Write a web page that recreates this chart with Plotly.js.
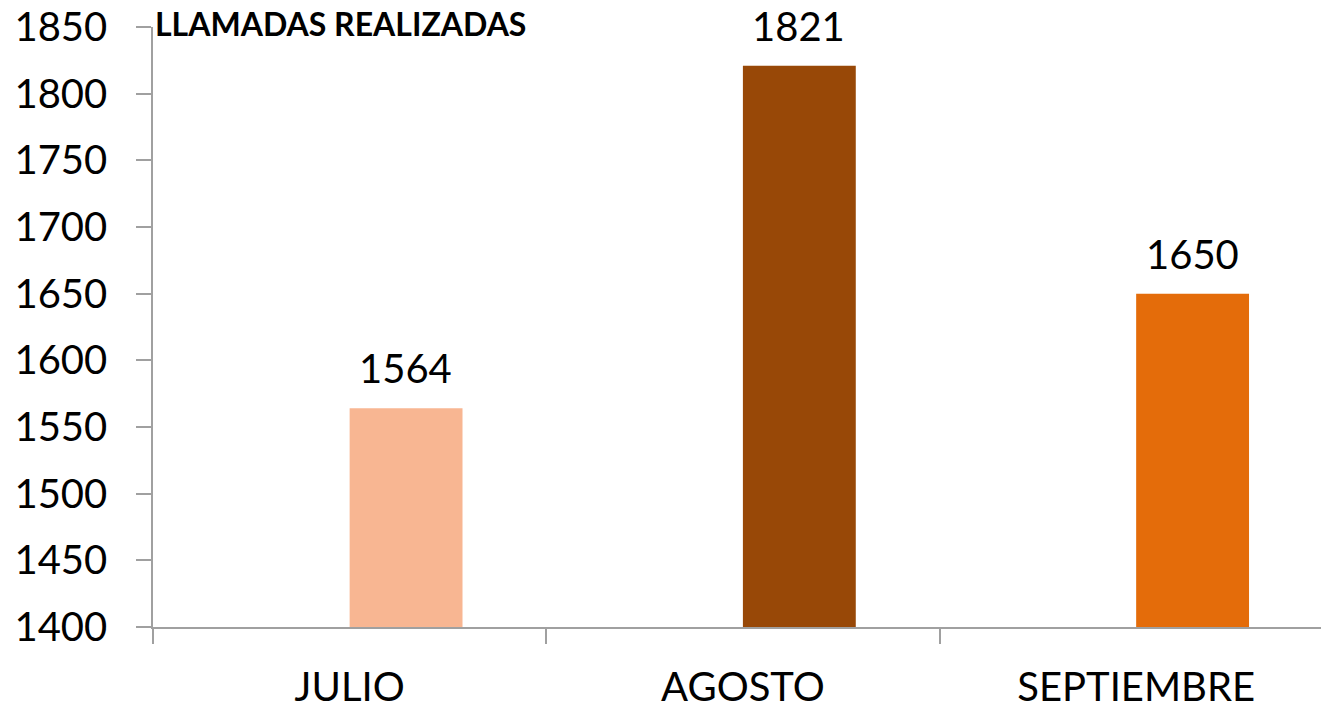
<!DOCTYPE html>
<html>
<head>
<meta charset="utf-8">
<script src="https://cdn.plot.ly/plotly-3.0.1.min.js"></script>
<style>
  html, body { margin: 0; padding: 0; background: #fff; }
  #chart { width: 1321px; height: 709px; }
</style>
</head>
<body>
<div id="chart"></div>
<script>
// Llamadas realizadas por mes
const months = ['JULIO', 'AGOSTO', 'SEPTIEMBRE'];
const calls = [1564, 1821, 1650];
const barColors = ['#F8B692', '#984807', '#E46C0A'];
const yTicks = [1400, 1450, 1500, 1550, 1600, 1650, 1700, 1750, 1800, 1850];

const font = 'Lato, "DejaVu Sans", sans-serif';
const barWidth = 0.287;

// labels sit over the middle of each bar (bars are shifted right of the category centre)
const valueLabels = months.map((m, i) => ({
  x: m,
  y: calls[i],
  xref: 'x',
  yref: 'y',
  text: String(calls[i]),
  showarrow: false,
  yanchor: 'bottom',
  xshift: 56,
  yshift: 14,
  font: { family: font, size: 40, color: '#000' }
}));

Plotly.newPlot('chart', [{
  x: months,
  y: calls,
  type: 'bar',
  width: barWidth,
  offset: 0,
  marker: { color: barColors },
  hoverinfo: 'x+y'
}], {
  width: 1321,
  height: 709,
  margin: { l: 153, r: 0, t: 27, b: 82 },
  paper_bgcolor: '#fff',
  plot_bgcolor: '#fff',
  showlegend: false,
  xaxis: {
    type: 'category',
    range: [-0.5, 2.47],
    showline: true,
    linecolor: '#A0A0A0',
    linewidth: 1.5,
    ticks: 'outside',
    tickson: 'boundaries',
    ticklen: 15,
    tickcolor: '#A0A0A0',
    tickwidth: 1.5,
    ticklabelstandoff: 24,
    showgrid: false,
    zeroline: false,
    tickfont: { family: font, size: 40, color: '#000' }
  },
  yaxis: {
    range: [1400, 1850],
    tickvals: yTicks,
    showline: true,
    linecolor: '#A0A0A0',
    linewidth: 1.5,
    ticks: 'outside',
    ticklen: 15,
    tickcolor: '#A0A0A0',
    tickwidth: 1.5,
    ticklabelstandoff: 21,
    showgrid: false,
    zeroline: false,
    tickfont: { family: font, size: 40, color: '#000' }
  },
  annotations: valueLabels.concat([{
    xref: 'paper',
    yref: 'paper',
    x: 0,
    y: 1,
    xanchor: 'left',
    yanchor: 'middle',
    yshift: 4,
    text: '<b>LLAMADAS REALIZADAS</b>',
    showarrow: false,
    font: { family: font, size: 32, color: '#000' }
  }])
}, { displayModeBar: false });
</script>
</body>
</html>
